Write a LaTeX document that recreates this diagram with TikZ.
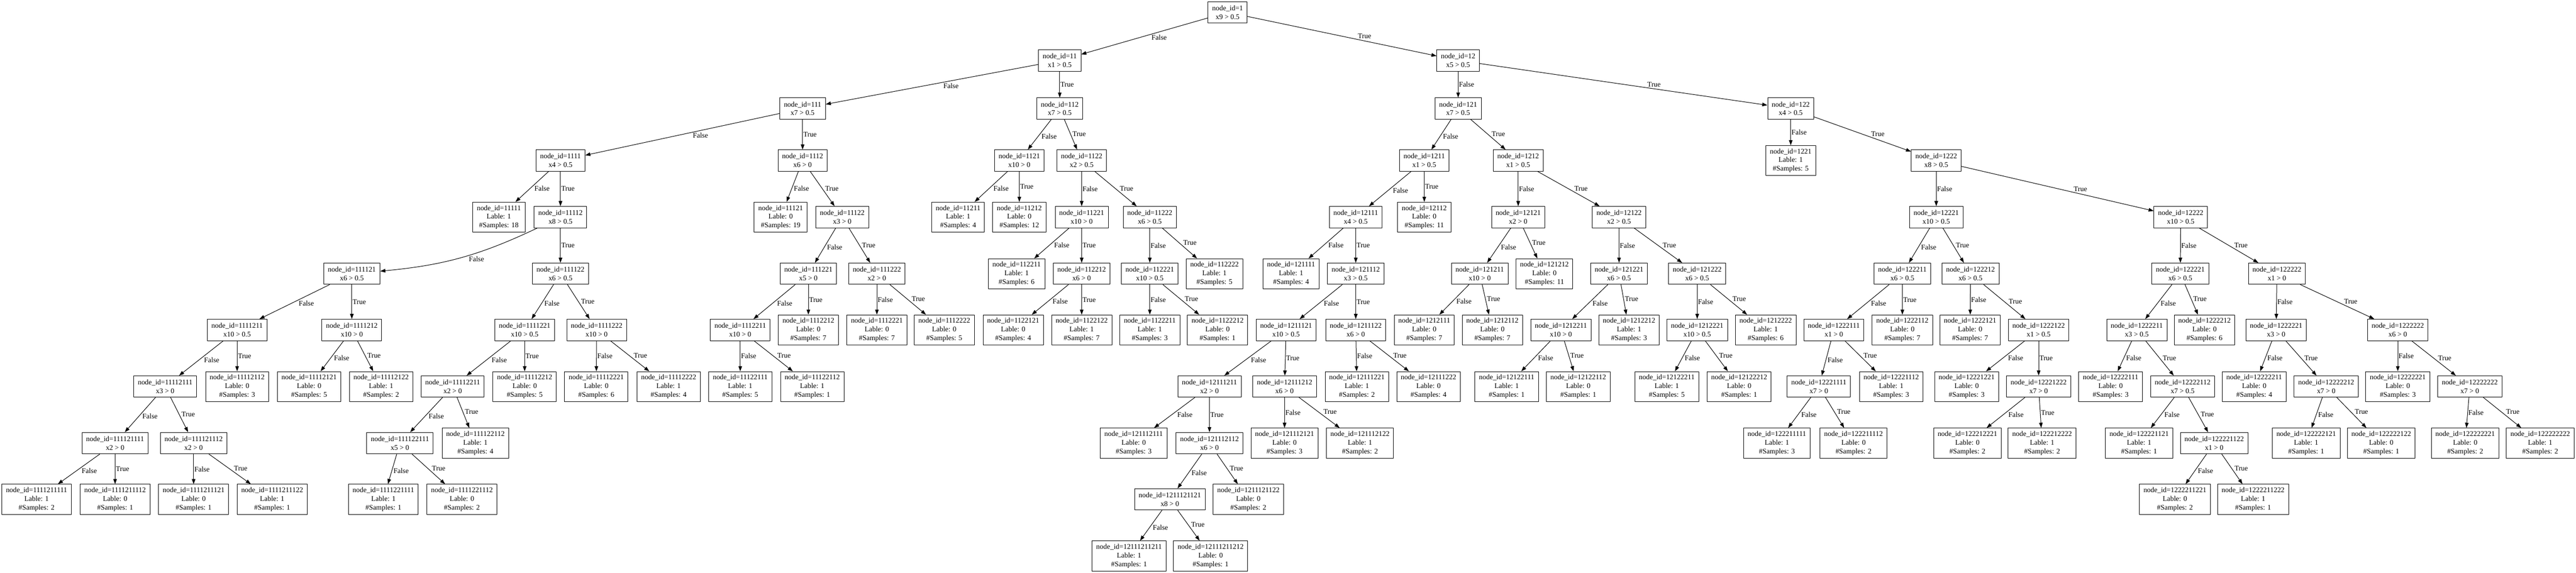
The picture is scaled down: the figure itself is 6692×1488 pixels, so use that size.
\documentclass[tikz,border=0pt]{standalone}
\usepackage{fontspec}
\setmainfont{Liberation Serif}
\usetikzlibrary{arrows.meta}

\begin{document}
\begin{tikzpicture}[line cap=round,line join=round,>={Triangle[length=10pt,width=7pt]},x=0.75pt,y=-0.75pt,line width=1pt,
	split/.style={draw,rectangle,align=center,font=\fontsize{14}{16.8}\selectfont,inner xsep=8pt,inner ysep=0pt,minimum width=54pt,minimum height=41.6pt},
	leaf/.style={split,minimum height=58.4pt},
	lblL/.style={font=\fontsize{14}{16.8}\selectfont,inner sep=1pt,pos=0.45,anchor=north west},
	lblR/.style={font=\fontsize{14}{16.8}\selectfont,inner sep=1pt,pos=0.58,anchor=south west},
	lblV/.style={font=\fontsize{14}{16.8}\selectfont,inner sep=1pt,pos=0.5,anchor=west}]
		\useasboundingbox (0,0) rectangle (6692,1488);
		\node[split] (n1) at (3189,32) {node\_id=1\\x9 > 0.5};
		\node[split] (n11) at (2753,157) {node\_id=11\\x1 > 0.5};
		\node[split] (n12) at (3788,157) {node\_id=12\\x5 > 0.5};
		\node[split] (n111) at (2085,282) {node\_id=111\\x7 > 0.5};
		\node[split] (n112) at (2753,282) {node\_id=112\\x7 > 0.5};
		\node[split] (n121) at (3788,282) {node\_id=121\\x7 > 0.5};
		\node[split] (n122) at (4652,282) {node\_id=122\\x4 > 0.5};
		\node[split] (n1111) at (1456,417) {node\_id=1111\\x4 > 0.5};
		\node[split] (n1112) at (2085,417) {node\_id=1112\\x6 > 0};
		\node[split] (n1121) at (2648,417) {node\_id=1121\\x10 > 0};
		\node[split] (n1122) at (2810,417) {node\_id=1122\\x2 > 0.5};
		\node[split] (n1211) at (3700,417) {node\_id=1211\\x1 > 0.5};
		\node[split] (n1212) at (3944,417) {node\_id=1212\\x1 > 0.5};
		\node[leaf] (n1221) at (4652,417) {node\_id=1221\\Lable: 1\\\#Samples: 5};
		\node[split] (n1222) at (5030,417) {node\_id=1222\\x8 > 0.5};
		\node[leaf] (n11111) at (1296,564) {node\_id=11111\\Lable: 1\\\#Samples: 18};
		\node[split] (n11112) at (1456,564) {node\_id=11112\\x8 > 0.5};
		\node[leaf] (n11121) at (2028,564) {node\_id=11121\\Lable: 0\\\#Samples: 19};
		\node[split] (n11122) at (2188,564) {node\_id=11122\\x3 > 0};
		\node[leaf] (n11211) at (2489,564) {node\_id=11211\\Lable: 1\\\#Samples: 4};
		\node[leaf] (n11212) at (2648,564) {node\_id=11212\\Lable: 0\\\#Samples: 12};
		\node[split] (n11221) at (2810,564) {node\_id=11221\\x10 > 0};
		\node[split] (n11222) at (2987,564) {node\_id=11222\\x6 > 0.5};
		\node[split] (n12111) at (3522,564) {node\_id=12111\\x4 > 0.5};
		\node[leaf] (n12112) at (3700,564) {node\_id=12112\\Lable: 0\\\#Samples: 11};
		\node[split] (n12121) at (3944,564) {node\_id=12121\\x2 > 0};
		\node[split] (n12122) at (4206,564) {node\_id=12122\\x2 > 0.5};
		\node[split] (n12221) at (5030,564) {node\_id=12221\\x10 > 0.5};
		\node[split] (n12222) at (5665,564) {node\_id=12222\\x10 > 0.5};
		\node[split] (n111121) at (914,711) {node\_id=111121\\x6 > 0.5};
		\node[split] (n111122) at (1456,711) {node\_id=111122\\x6 > 0.5};
		\node[split] (n111221) at (2100,711) {node\_id=111221\\x5 > 0};
		\node[split] (n111222) at (2278,711) {node\_id=111222\\x2 > 0};
		\node[leaf] (n112211) at (2641,711) {node\_id=112211\\Lable: 1\\\#Samples: 6};
		\node[split] (n112212) at (2810,711) {node\_id=112212\\x6 > 0};
		\node[split] (n112221) at (2987,711) {node\_id=112221\\x10 > 0.5};
		\node[leaf] (n112222) at (3155,711) {node\_id=112222\\Lable: 1\\\#Samples: 5};
		\node[leaf] (n121111) at (3354,711) {node\_id=121111\\Lable: 1\\\#Samples: 4};
		\node[split] (n121112) at (3522,711) {node\_id=121112\\x3 > 0.5};
		\node[split] (n121211) at (3844,711) {node\_id=121211\\x10 > 0};
		\node[leaf] (n121212) at (4012,711) {node\_id=121212\\Lable: 0\\\#Samples: 11};
		\node[split] (n121221) at (4206,711) {node\_id=121221\\x6 > 0.5};
		\node[split] (n121222) at (4409,711) {node\_id=121222\\x6 > 0.5};
		\node[split] (n122211) at (4942,711) {node\_id=122211\\x6 > 0.5};
		\node[split] (n122212) at (5119,711) {node\_id=122212\\x6 > 0.5};
		\node[split] (n122221) at (5664,711) {node\_id=122221\\x6 > 0.5};
		\node[split] (n122222) at (5915,711) {node\_id=122222\\x1 > 0};
		\node[split] (n1111211) at (616,857) {node\_id=1111211\\x10 > 0.5};
		\node[split] (n1111212) at (914,857) {node\_id=1111212\\x10 > 0};
		\node[split] (n1111221) at (1363,857) {node\_id=1111221\\x10 > 0.5};
		\node[split] (n1111222) at (1550,857) {node\_id=1111222\\x10 > 0};
		\node[split] (n1112211) at (1923,857) {node\_id=1112211\\x10 > 0};
		\node[leaf] (n1112212) at (2100,857) {node\_id=1112212\\Lable: 0\\\#Samples: 7};
		\node[leaf] (n1112221) at (2278,857) {node\_id=1112221\\Lable: 0\\\#Samples: 7};
		\node[leaf] (n1112222) at (2453,857) {node\_id=1112222\\Lable: 0\\\#Samples: 5};
		\node[leaf] (n1122121) at (2632,857) {node\_id=1122121\\Lable: 0\\\#Samples: 4};
		\node[leaf] (n1122122) at (2810,857) {node\_id=1122122\\Lable: 1\\\#Samples: 7};
		\node[leaf] (n1122211) at (2987,857) {node\_id=1122211\\Lable: 1\\\#Samples: 3};
		\node[leaf] (n1122212) at (3163,857) {node\_id=1122212\\Lable: 0\\\#Samples: 1};
		\node[split] (n1211121) at (3341,857) {node\_id=1211121\\x10 > 0.5};
		\node[split] (n1211122) at (3522,857) {node\_id=1211122\\x6 > 0};
		\node[leaf] (n1212111) at (3700,857) {node\_id=1212111\\Lable: 0\\\#Samples: 7};
		\node[leaf] (n1212112) at (3877,857) {node\_id=1212112\\Lable: 0\\\#Samples: 7};
		\node[split] (n1212211) at (4055,857) {node\_id=1212211\\x10 > 0};
		\node[leaf] (n1212212) at (4232,857) {node\_id=1212212\\Lable: 1\\\#Samples: 3};
		\node[split] (n1212221) at (4409,857) {node\_id=1212221\\x10 > 0.5};
		\node[leaf] (n1212222) at (4587,857) {node\_id=1212222\\Lable: 1\\\#Samples: 6};
		\node[split] (n1222111) at (4764,857) {node\_id=1222111\\x1 > 0};
		\node[leaf] (n1222112) at (4942,857) {node\_id=1222112\\Lable: 0\\\#Samples: 7};
		\node[leaf] (n1222121) at (5118,857) {node\_id=1222121\\Lable: 0\\\#Samples: 7};
		\node[split] (n1222122) at (5296,857) {node\_id=1222122\\x1 > 0.5};
		\node[split] (n1222211) at (5551,857) {node\_id=1222211\\x3 > 0.5};
		\node[leaf] (n1222212) at (5727,857) {node\_id=1222212\\Lable: 0\\\#Samples: 6};
		\node[split] (n1222221) at (5913,857) {node\_id=1222221\\x3 > 0};
		\node[split] (n1222222) at (6229,857) {node\_id=1222222\\x6 > 0};
		\node[split] (n11112111) at (429,1004) {node\_id=11112111\\x3 > 0};
		\node[leaf] (n11112112) at (616,1004) {node\_id=11112112\\Lable: 0\\\#Samples: 3};
		\node[leaf] (n11112121) at (803,1004) {node\_id=11112121\\Lable: 0\\\#Samples: 5};
		\node[leaf] (n11112122) at (990,1004) {node\_id=11112122\\Lable: 1\\\#Samples: 2};
		\node[split] (n11112211) at (1176,1004) {node\_id=11112211\\x2 > 0};
		\node[leaf] (n11112212) at (1363,1004) {node\_id=11112212\\Lable: 0\\\#Samples: 5};
		\node[leaf] (n11112221) at (1549,1004) {node\_id=11112221\\Lable: 0\\\#Samples: 6};
		\node[leaf] (n11112222) at (1737,1004) {node\_id=11112222\\Lable: 1\\\#Samples: 4};
		\node[leaf] (n11122111) at (1923,1004) {node\_id=11122111\\Lable: 1\\\#Samples: 5};
		\node[leaf] (n11122112) at (2110,1004) {node\_id=11122112\\Lable: 1\\\#Samples: 1};
		\node[split] (n12111211) at (3142,1004) {node\_id=12111211\\x2 > 0};
		\node[split] (n12111212) at (3337,1004) {node\_id=12111212\\x6 > 0};
		\node[leaf] (n12111221) at (3525,1004) {node\_id=12111221\\Lable: 1\\\#Samples: 2};
		\node[leaf] (n12111222) at (3711,1004) {node\_id=12111222\\Lable: 0\\\#Samples: 4};
		\node[leaf] (n12122111) at (3914,1004) {node\_id=12122111\\Lable: 1\\\#Samples: 1};
		\node[leaf] (n12122112) at (4100,1004) {node\_id=12122112\\Lable: 0\\\#Samples: 1};
		\node[leaf] (n12122211) at (4330,1004) {node\_id=12122211\\Lable: 1\\\#Samples: 5};
		\node[leaf] (n12122212) at (4518,1004) {node\_id=12122212\\Lable: 0\\\#Samples: 1};
		\node[split] (n12221111) at (4725,1004) {node\_id=12221111\\x7 > 0};
		\node[leaf] (n12221112) at (4913,1004) {node\_id=12221112\\Lable: 1\\\#Samples: 3};
		\node[leaf] (n12221221) at (5109,1004) {node\_id=12221221\\Lable: 0\\\#Samples: 3};
		\node[split] (n12221222) at (5296,1004) {node\_id=12221222\\x7 > 0};
		\node[leaf] (n12222111) at (5483,1004) {node\_id=12222111\\Lable: 0\\\#Samples: 3};
		\node[split] (n12222112) at (5670,1004) {node\_id=12222112\\x7 > 0.5};
		\node[leaf] (n12222211) at (5856,1004) {node\_id=12222211\\Lable: 0\\\#Samples: 4};
		\node[split] (n12222212) at (6043,1004) {node\_id=12222212\\x7 > 0};
		\node[leaf] (n12222221) at (6229,1004) {node\_id=12222221\\Lable: 0\\\#Samples: 3};
		\node[split] (n12222222) at (6416,1004) {node\_id=12222222\\x7 > 0};
		\node[split] (n111121111) at (299,1151) {node\_id=111121111\\x2 > 0};
		\node[split] (n111121112) at (503,1151) {node\_id=111121112\\x2 > 0};
		\node[split] (n111122111) at (1039,1151) {node\_id=111122111\\x5 > 0};
		\node[leaf] (n111122112) at (1235,1151) {node\_id=111122112\\Lable: 1\\\#Samples: 4};
		\node[leaf] (n121112111) at (2945,1151) {node\_id=121112111\\Lable: 0\\\#Samples: 3};
		\node[split] (n121112112) at (3142,1151) {node\_id=121112112\\x6 > 0};
		\node[leaf] (n121112121) at (3337,1151) {node\_id=121112121\\Lable: 0\\\#Samples: 3};
		\node[leaf] (n121112122) at (3533,1151) {node\_id=121112122\\Lable: 1\\\#Samples: 2};
		\node[leaf] (n122211111) at (4616,1151) {node\_id=122211111\\Lable: 1\\\#Samples: 3};
		\node[leaf] (n122211112) at (4815,1151) {node\_id=122211112\\Lable: 0\\\#Samples: 2};
		\node[leaf] (n122212221) at (5111,1151) {node\_id=122212221\\Lable: 0\\\#Samples: 2};
		\node[leaf] (n122212222) at (5305,1151) {node\_id=122212222\\Lable: 1\\\#Samples: 2};
		\node[leaf] (n122221121) at (5557,1151) {node\_id=122221121\\Lable: 1\\\#Samples: 1};
		\node[split] (n122221122) at (5752,1151) {node\_id=122221122\\x1 > 0};
		\node[leaf] (n122222121) at (5991,1151) {node\_id=122222121\\Lable: 1\\\#Samples: 1};
		\node[leaf] (n122222122) at (6186,1151) {node\_id=122222122\\Lable: 0\\\#Samples: 1};
		\node[leaf] (n122222221) at (6404,1151) {node\_id=122222221\\Lable: 0\\\#Samples: 2};
		\node[leaf] (n122222222) at (6599,1151) {node\_id=122222222\\Lable: 1\\\#Samples: 2};
		\node[leaf] (n1111211111) at (95,1297) {node\_id=1111211111\\Lable: 1\\\#Samples: 2};
		\node[leaf] (n1111211112) at (299,1297) {node\_id=1111211112\\Lable: 0\\\#Samples: 1};
		\node[leaf] (n1111211121) at (503,1297) {node\_id=1111211121\\Lable: 0\\\#Samples: 1};
		\node[leaf] (n1111211122) at (707,1297) {node\_id=1111211122\\Lable: 1\\\#Samples: 1};
		\node[leaf] (n1111221111) at (996,1297) {node\_id=1111221111\\Lable: 1\\\#Samples: 1};
		\node[leaf] (n1111221112) at (1200,1297) {node\_id=1111221112\\Lable: 0\\\#Samples: 2};
		\node[split] (n1211121121) at (3039,1297) {node\_id=1211121121\\x8 > 0};
		\node[leaf] (n1211121122) at (3243,1297) {node\_id=1211121122\\Lable: 0\\\#Samples: 2};
		\node[leaf] (n1222211221) at (5650,1297) {node\_id=1222211221\\Lable: 0\\\#Samples: 2};
		\node[leaf] (n1222211222) at (5853,1297) {node\_id=1222211222\\Lable: 1\\\#Samples: 1};
		\node[leaf] (n12111211211) at (2933,1444) {node\_id=12111211211\\Lable: 1\\\#Samples: 1};
		\node[leaf] (n12111211212) at (3145,1444) {node\_id=12111211212\\Lable: 0\\\#Samples: 1};
		\draw[->] (n1) -- node[lblL] {False} (n11);
		\draw[->] (n1) -- node[lblR] {True} (n12);
		\draw[->] (n11) -- node[lblL] {False} (n111);
		\draw[->] (n11) -- node[lblV] {True} (n112);
		\draw[->] (n12) -- node[lblV] {False} (n121);
		\draw[->] (n12) -- node[lblR] {True} (n122);
		\draw[->] (n111) -- node[lblL] {False} (n1111);
		\draw[->] (n111) -- node[lblV] {True} (n1112);
		\draw[->] (n112) -- node[lblL] {False} (n1121);
		\draw[->] (n112) -- node[lblR] {True} (n1122);
		\draw[->] (n121) -- node[lblL] {False} (n1211);
		\draw[->] (n121) -- node[lblR] {True} (n1212);
		\draw[->] (n122) -- node[lblV] {False} (n1221);
		\draw[->] (n122) -- node[lblR] {True} (n1222);
		\draw[->] (n1111) -- node[lblL] {False} (n11111);
		\draw[->] (n1111) -- node[lblV] {True} (n11112);
		\draw[->] (n1112) -- node[lblL] {False} (n11121);
		\draw[->] (n1112) -- node[lblR] {True} (n11122);
		\draw[->] (n1121) -- node[lblL] {False} (n11211);
		\draw[->] (n1121) -- node[lblV] {True} (n11212);
		\draw[->] (n1122) -- node[lblV] {False} (n11221);
		\draw[->] (n1122) -- node[lblR] {True} (n11222);
		\draw[->] (n1211) -- node[lblL] {False} (n12111);
		\draw[->] (n1211) -- node[lblV] {True} (n12112);
		\draw[->] (n1212) -- node[lblV] {False} (n12121);
		\draw[->] (n1212) -- node[lblR] {True} (n12122);
		\draw[->] (n1222) -- node[lblV] {False} (n12221);
		\draw[->] (n1222) -- node[lblR] {True} (n12222);
		\draw[->] (n11112) to[bend left=10] node[lblL] {False} (n111121);
		\draw[->] (n11112) -- node[lblV] {True} (n111122);
		\draw[->] (n11122) -- node[lblL] {False} (n111221);
		\draw[->] (n11122) -- node[lblR] {True} (n111222);
		\draw[->] (n11221) -- node[lblL] {False} (n112211);
		\draw[->] (n11221) -- node[lblV] {True} (n112212);
		\draw[->] (n11222) -- node[lblV] {False} (n112221);
		\draw[->] (n11222) -- node[lblR] {True} (n112222);
		\draw[->] (n12111) -- node[lblL] {False} (n121111);
		\draw[->] (n12111) -- node[lblV] {True} (n121112);
		\draw[->] (n12121) -- node[lblL] {False} (n121211);
		\draw[->] (n12121) -- node[lblR] {True} (n121212);
		\draw[->] (n12122) -- node[lblV] {False} (n121221);
		\draw[->] (n12122) -- node[lblR] {True} (n121222);
		\draw[->] (n12221) -- node[lblL] {False} (n122211);
		\draw[->] (n12221) -- node[lblR] {True} (n122212);
		\draw[->] (n12222) -- node[lblV] {False} (n122221);
		\draw[->] (n12222) -- node[lblR] {True} (n122222);
		\draw[->] (n111121) -- node[lblL] {False} (n1111211);
		\draw[->] (n111121) -- node[lblV] {True} (n1111212);
		\draw[->] (n111122) -- node[lblL] {False} (n1111221);
		\draw[->] (n111122) -- node[lblR] {True} (n1111222);
		\draw[->] (n111221) -- node[lblL] {False} (n1112211);
		\draw[->] (n111221) -- node[lblV] {True} (n1112212);
		\draw[->] (n111222) -- node[lblV] {False} (n1112221);
		\draw[->] (n111222) -- node[lblR] {True} (n1112222);
		\draw[->] (n112212) -- node[lblL] {False} (n1122121);
		\draw[->] (n112212) -- node[lblV] {True} (n1122122);
		\draw[->] (n112221) -- node[lblV] {False} (n1122211);
		\draw[->] (n112221) -- node[lblR] {True} (n1122212);
		\draw[->] (n121112) -- node[lblL] {False} (n1211121);
		\draw[->] (n121112) -- node[lblV] {True} (n1211122);
		\draw[->] (n121211) -- node[lblL] {False} (n1212111);
		\draw[->] (n121211) -- node[lblR] {True} (n1212112);
		\draw[->] (n121221) -- node[lblL] {False} (n1212211);
		\draw[->] (n121221) -- node[lblR] {True} (n1212212);
		\draw[->] (n121222) -- node[lblV] {False} (n1212221);
		\draw[->] (n121222) -- node[lblR] {True} (n1212222);
		\draw[->] (n122211) -- node[lblL] {False} (n1222111);
		\draw[->] (n122211) -- node[lblV] {True} (n1222112);
		\draw[->] (n122212) -- node[lblV] {False} (n1222121);
		\draw[->] (n122212) -- node[lblR] {True} (n1222122);
		\draw[->] (n122221) -- node[lblL] {False} (n1222211);
		\draw[->] (n122221) -- node[lblR] {True} (n1222212);
		\draw[->] (n122222) -- node[lblV] {False} (n1222221);
		\draw[->] (n122222) -- node[lblR] {True} (n1222222);
		\draw[->] (n1111211) -- node[lblL] {False} (n11112111);
		\draw[->] (n1111211) -- node[lblV] {True} (n11112112);
		\draw[->] (n1111212) -- node[lblL] {False} (n11112121);
		\draw[->] (n1111212) -- node[lblR] {True} (n11112122);
		\draw[->] (n1111221) -- node[lblL] {False} (n11112211);
		\draw[->] (n1111221) -- node[lblV] {True} (n11112212);
		\draw[->] (n1111222) -- node[lblV] {False} (n11112221);
		\draw[->] (n1111222) -- node[lblR] {True} (n11112222);
		\draw[->] (n1112211) -- node[lblV] {False} (n11122111);
		\draw[->] (n1112211) -- node[lblR] {True} (n11122112);
		\draw[->] (n1211121) -- node[lblL] {False} (n12111211);
		\draw[->] (n1211121) -- node[lblV] {True} (n12111212);
		\draw[->] (n1211122) -- node[lblV] {False} (n12111221);
		\draw[->] (n1211122) -- node[lblR] {True} (n12111222);
		\draw[->] (n1212211) -- node[lblL] {False} (n12122111);
		\draw[->] (n1212211) -- node[lblR] {True} (n12122112);
		\draw[->] (n1212221) -- node[lblL] {False} (n12122211);
		\draw[->] (n1212221) -- node[lblR] {True} (n12122212);
		\draw[->] (n1222111) -- node[lblL] {False} (n12221111);
		\draw[->] (n1222111) -- node[lblR] {True} (n12221112);
		\draw[->] (n1222122) -- node[lblL] {False} (n12221221);
		\draw[->] (n1222122) -- node[lblV] {True} (n12221222);
		\draw[->] (n1222211) -- node[lblL] {False} (n12222111);
		\draw[->] (n1222211) -- node[lblR] {True} (n12222112);
		\draw[->] (n1222221) -- node[lblL] {False} (n12222211);
		\draw[->] (n1222221) -- node[lblR] {True} (n12222212);
		\draw[->] (n1222222) -- node[lblV] {False} (n12222221);
		\draw[->] (n1222222) -- node[lblR] {True} (n12222222);
		\draw[->] (n11112111) -- node[lblL] {False} (n111121111);
		\draw[->] (n11112111) -- node[lblR] {True} (n111121112);
		\draw[->] (n11112211) -- node[lblL] {False} (n111122111);
		\draw[->] (n11112211) -- node[lblR] {True} (n111122112);
		\draw[->] (n12111211) -- node[lblL] {False} (n121112111);
		\draw[->] (n12111211) -- node[lblV] {True} (n121112112);
		\draw[->] (n12111212) -- node[lblV] {False} (n121112121);
		\draw[->] (n12111212) -- node[lblR] {True} (n121112122);
		\draw[->] (n12221111) -- node[lblL] {False} (n122211111);
		\draw[->] (n12221111) -- node[lblR] {True} (n122211112);
		\draw[->] (n12221222) -- node[lblL] {False} (n122212221);
		\draw[->] (n12221222) -- node[lblV] {True} (n122212222);
		\draw[->] (n12222112) -- node[lblL] {False} (n122221121);
		\draw[->] (n12222112) -- node[lblR] {True} (n122221122);
		\draw[->] (n12222212) -- node[lblL] {False} (n122222121);
		\draw[->] (n12222212) -- node[lblR] {True} (n122222122);
		\draw[->] (n12222222) -- node[lblV] {False} (n122222221);
		\draw[->] (n12222222) -- node[lblR] {True} (n122222222);
		\draw[->] (n111121111) -- node[lblL] {False} (n1111211111);
		\draw[->] (n111121111) -- node[lblV] {True} (n1111211112);
		\draw[->] (n111121112) -- node[lblV] {False} (n1111211121);
		\draw[->] (n111121112) -- node[lblR] {True} (n1111211122);
		\draw[->] (n111122111) -- node[lblL] {False} (n1111221111);
		\draw[->] (n111122111) -- node[lblR] {True} (n1111221112);
		\draw[->] (n121112112) -- node[lblL] {False} (n1211121121);
		\draw[->] (n121112112) -- node[lblR] {True} (n1211121122);
		\draw[->] (n122221122) -- node[lblL] {False} (n1222211221);
		\draw[->] (n122221122) -- node[lblR] {True} (n1222211222);
		\draw[->] (n1211121121) -- node[lblL] {False} (n12111211211);
		\draw[->] (n1211121121) -- node[lblR] {True} (n12111211212);
	\end{tikzpicture}
\end{document}
